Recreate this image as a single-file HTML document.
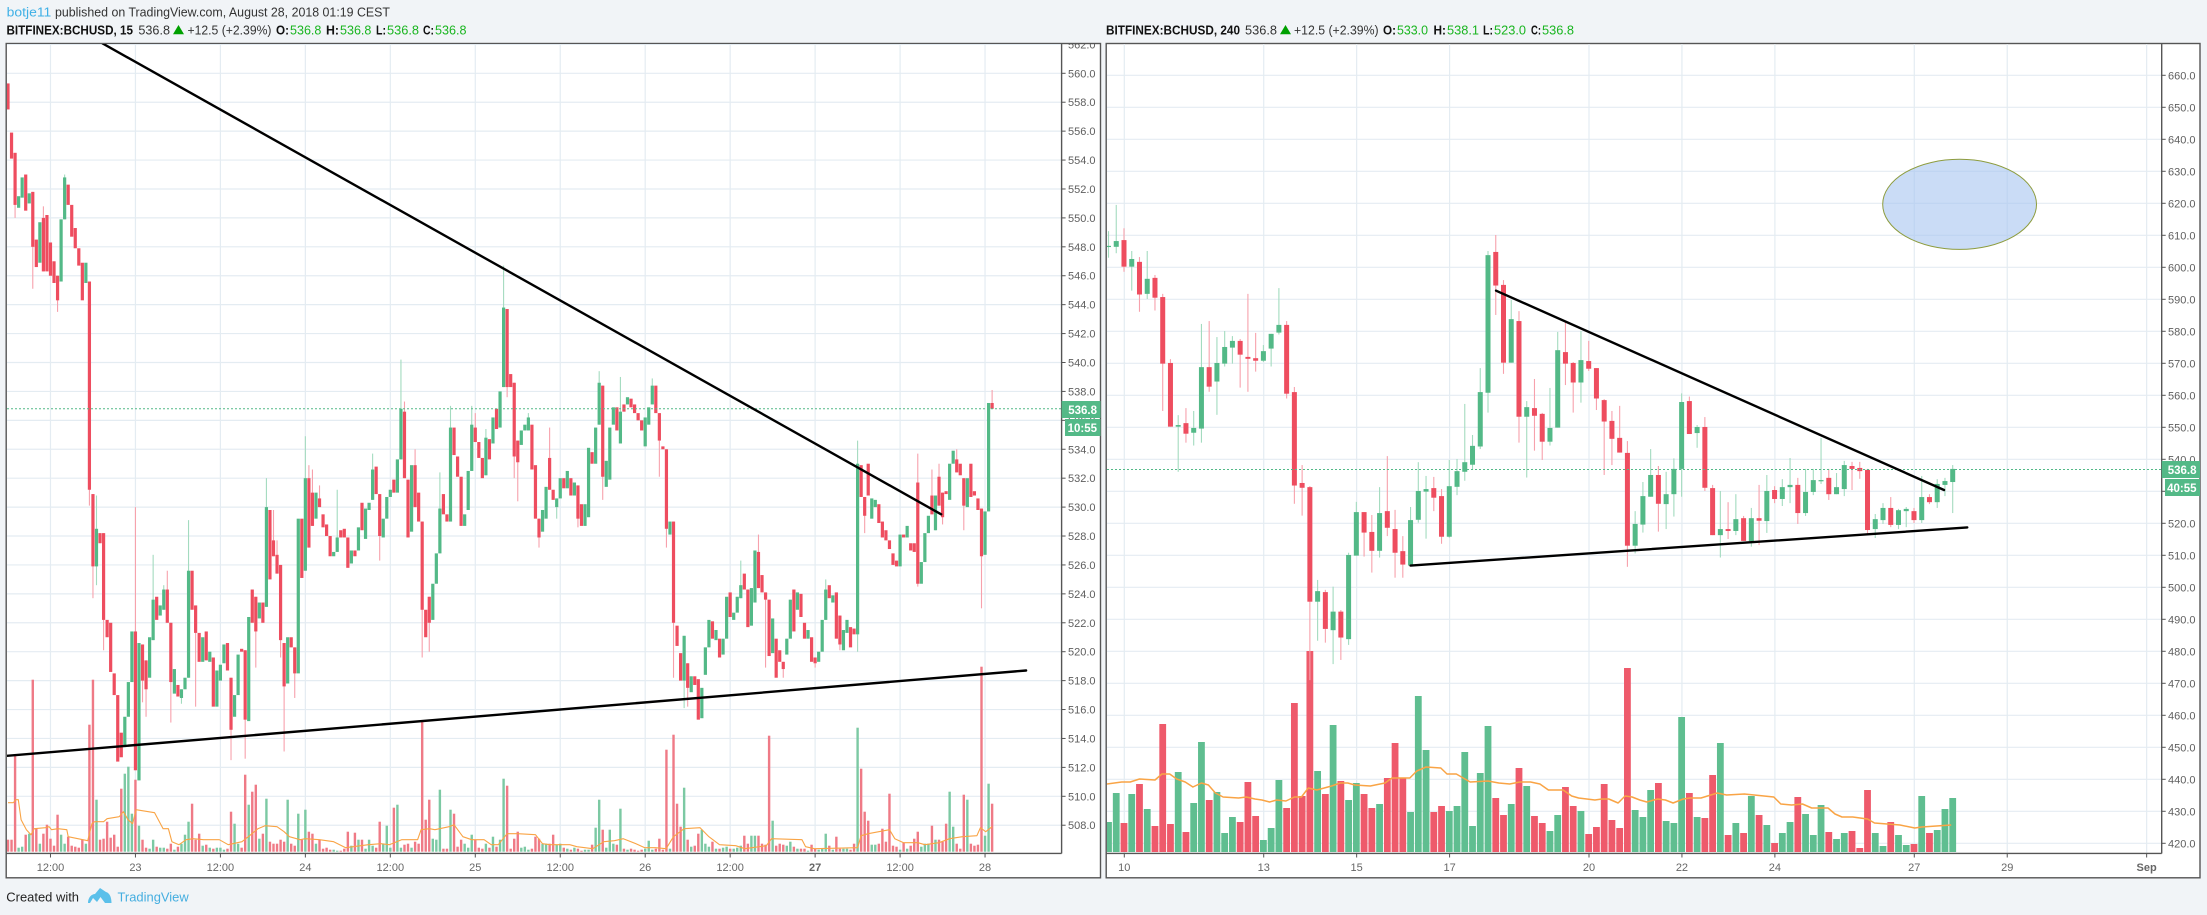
<!DOCTYPE html>
<html lang="en">
<head>
<meta charset="utf-8">
<title>BCHUSD charts</title>
<style>
html,body{margin:0;padding:0;background:#f1f4f7;}
svg{position:absolute;left:0;top:0;display:block;font-family:"Liberation Sans",sans-serif;}
</style>
</head>
<body>
<svg id="root" width="2207" height="915" viewBox="0 0 2207 915" xmlns="http://www.w3.org/2000/svg">
<defs>
<clipPath id="clipL"><rect x="7" y="44" width="1054.5" height="809"/></clipPath>
<clipPath id="clipR"><rect x="1107" y="44" width="1054.5" height="809"/></clipPath>
</defs>
<rect x="0" y="0" width="2207" height="915" fill="#f1f4f7"/>

<g font-size="13">
<text x="6.7" y="16.5" fill="#3fb0e6" textLength="44.6" lengthAdjust="spacingAndGlyphs">botje11</text>
<text x="55" y="16.5" fill="#333" textLength="335" lengthAdjust="spacingAndGlyphs">published on TradingView.com, August 28, 2018 01:19 CEST</text>
</g>

<g font-size="13">
<text x="6.5" y="34.5" font-weight="bold" fill="#111" textLength="126.5" lengthAdjust="spacingAndGlyphs">BITFINEX:BCHUSD, 15</text>
<text x="138.4" y="34.5" fill="#333" textLength="31.6" lengthAdjust="spacingAndGlyphs">536.8</text>
<polygon points="173,34.3 184,34.3 178.5,25" fill="#00a000"/>
<text x="187.5" y="34.5" fill="#333" textLength="84" lengthAdjust="spacingAndGlyphs">+12.5 (+2.39%)</text>
<text x="276" y="34.5" font-weight="bold" fill="#111" textLength="13" lengthAdjust="spacingAndGlyphs">O:</text>
<text x="290" y="34.5" fill="#19b51f" textLength="31.4" lengthAdjust="spacingAndGlyphs">536.8</text>
<text x="326" y="34.5" font-weight="bold" fill="#111" textLength="13" lengthAdjust="spacingAndGlyphs">H:</text>
<text x="340" y="34.5" fill="#19b51f" textLength="31.4" lengthAdjust="spacingAndGlyphs">536.8</text>
<text x="376" y="34.5" font-weight="bold" fill="#111" textLength="10" lengthAdjust="spacingAndGlyphs">L:</text>
<text x="387" y="34.5" fill="#19b51f" textLength="32" lengthAdjust="spacingAndGlyphs">536.8</text>
<text x="423" y="34.5" font-weight="bold" fill="#111" textLength="11" lengthAdjust="spacingAndGlyphs">C:</text>
<text x="435" y="34.5" fill="#19b51f" textLength="31.5" lengthAdjust="spacingAndGlyphs">536.8</text>
</g>

<g font-size="13">
<text x="1106" y="34.5" font-weight="bold" fill="#111" textLength="134" lengthAdjust="spacingAndGlyphs">BITFINEX:BCHUSD, 240</text>
<text x="1245" y="34.5" fill="#333" textLength="32" lengthAdjust="spacingAndGlyphs">536.8</text>
<polygon points="1280,34.3 1291,34.3 1285.5,25" fill="#00a000"/>
<text x="1294" y="34.5" fill="#333" textLength="84.6" lengthAdjust="spacingAndGlyphs">+12.5 (+2.39%)</text>
<text x="1383" y="34.5" font-weight="bold" fill="#111" textLength="13" lengthAdjust="spacingAndGlyphs">O:</text>
<text x="1397" y="34.5" fill="#19b51f" textLength="31" lengthAdjust="spacingAndGlyphs">533.0</text>
<text x="1433.5" y="34.5" font-weight="bold" fill="#111" textLength="12.5" lengthAdjust="spacingAndGlyphs">H:</text>
<text x="1447" y="34.5" fill="#19b51f" textLength="32" lengthAdjust="spacingAndGlyphs">538.1</text>
<text x="1483" y="34.5" font-weight="bold" fill="#111" textLength="10" lengthAdjust="spacingAndGlyphs">L:</text>
<text x="1494" y="34.5" fill="#19b51f" textLength="32" lengthAdjust="spacingAndGlyphs">523.0</text>
<text x="1531" y="34.5" font-weight="bold" fill="#111" textLength="10" lengthAdjust="spacingAndGlyphs">C:</text>
<text x="1542" y="34.5" fill="#19b51f" textLength="32" lengthAdjust="spacingAndGlyphs">536.8</text>
</g>

<rect x="6.2" y="43.5" width="1094.3" height="834.3" fill="#ffffff" stroke="#555" stroke-width="1.4"/>
<rect x="1106.2" y="43.5" width="1093.8" height="834.3" fill="#ffffff" stroke="#555" stroke-width="1.4"/>

<g id="leftChart"></g>
<g id="rightChart"></g>

<g>
<text x="6.3" y="901.5" font-size="13" fill="#222" textLength="72.7" lengthAdjust="spacingAndGlyphs">Created with</text>
<path d="M88 903 C88 897 92 894 95 894 L100 888 L106 892 C110 893 111.5 898 111.5 903 L105 903 L100.5 897 L97 902 L93 898 L90 903 Z" fill="#5bc0ea"/>
<text x="117.5" y="901.5" font-size="13" fill="#45aee0" textLength="71.2" lengthAdjust="spacingAndGlyphs">TradingView</text>
</g>
</svg>

<script>
// ---------- LEFT CHART DATA (BCHUSD, resampled 30-minute candles) ----------
const leftOpens = [559.3,555.9,554.5,550.7,551.4,553,551,551.8,548.5,546.9,
550,550.2,548.3,547,546,545.6,549.9,552.3,550.9,549.3,
547.9,546.9,545.5,545.6,530.9,525.9,528.2,528.2,522.2,522,
518.5,517,514.4,513.4,515.5,517.9,521.4,511.1,520.5,519.4,
518.2,520.8,523.8,522.5,522.9,524.3,522,517.1,517.7,516.8,
517.4,518.2,525.6,523.2,521.3,519.3,521.4,519.3,519.6,516.2,
518,519.2,520.6,518.2,515.5,517,520.2,520.1,515.2,524.3,
523.8,522.3,523.4,523.1,529.8,527.7,526.7,526,520.6,517.8,
521,520.3,518.5,529.2,525.6,532,531,529.2,530.6,529.5,
528.8,528,526.6,526.9,528.4,528.5,527.9,526.1,527,527,
530.3,527.8,529.8,530.5,532.8,530.9,527.9,529.2,530.7,531.9,
531,533.3,536.6,531.9,528.3,532.9,531,529,522.9,523.8,
522.2,524.7,526.8,530.9,529.5,529,535.5,533.5,532.1,528.7,
529.8,532.5,535.5,534.5,533.4,532.2,534.7,534.4,536.8,535.5,
538.3,543.7,539.2,538.6,534.6,534.3,535.3,535.3,535.7,532.9,
529.2,528.3,529.2,533.4,531.2,530,530.6,532,531.3,532,
530.8,531.5,530.2,528.7,529.3,533.8,533,535.7,538.4,531.4,
531.9,535.7,536.9,534.4,537.1,537.1,537.5,537.1,536.5,536,
534.2,535.7,537.1,538.4,536.5,534.2,534,528.1,529,521.8,
519.9,518,519.2,517.2,518.3,518.1,515.4,518.4,520.3,522.1,
520.8,520.9,519.8,520.9,524.1,522.2,522.7,523.7,525.4,524.3,
521.8,523.4,526.9,525.3,524.1,523.6,519.9,520.9,520.1,519.3,
519.8,520.9,524.3,522.9,524,522,520.9,521,519.6,519.3,
520,522.2,524.6,523.4,524.1,522.5,520.1,521.3,521.7,521.6,
521.2,532.9,530.7,533,529.2,530,530.2,529,528.4,527.7,
526.8,526.3,525.9,528.1,527.9,527.5,527.5,531.7,524.7,526.2,
528.2,530.8,528.4,532.1,531,531.1,530.5,533,533.3,533,
532,530,533,531.1,530.6,529.9,526.7,529.7,537.2];
const leftCloses = [557.5,554.1,550.9,551.5,552.8,550.5,551.7,548,546.6,549.7,
546.3,546.3,546,545.5,544.3,549.9,552.8,550.9,548.7,547.9,
546.7,544.3,546.9,531.2,525.9,528.5,527.5,522.2,521,518.6,
517,512.4,512.7,515.5,517.9,521.4,511.8,520.6,518,517.4,
521,523.6,522.2,523.2,524.3,522,517.9,518.8,516.9,517.4,
518.2,525.6,522.9,521.3,519.3,521,519.4,520,516.2,518.7,
519.1,520.5,518.7,514.6,517,519.8,520,515.3,522.4,522,
521.4,523.4,522,530,525,526.6,525.4,520.8,517.6,521,
520.3,518.5,529.2,525.1,532,527.2,528.7,531,530,528.6,
528,526.6,526.9,527.9,527.9,527.9,525.8,527,526.6,528.6,
528.4,529.9,530.3,532.6,530.9,528,529.2,530.7,531.2,531,
533.3,536.8,532,527.9,532.9,530,529,522.9,521,522,
524.7,526.8,529.9,529.5,529,535.5,533.6,532.1,528.7,529.5,
532.5,535.7,534.5,533.4,532,534.8,533.3,536.2,535.4,538,
543.8,538.3,538.3,533.5,533.1,535.3,535.7,536.2,532.6,529.2,
527.9,529.8,531.4,531.2,530.5,530.6,532,531.3,532.5,530.8,
531.7,529.2,528.7,530.2,534.1,533,535.5,538.6,532.1,533.2,
535.5,536.9,535.3,536.6,536.6,537.6,536.9,536.5,536,535.3,
536.2,536.9,538.4,536.5,534.6,534,528.5,529,522,520.4,
518,521.1,517.5,518.3,517.7,515.3,517.5,520.3,522.2,520.9,
521.5,519.6,520.9,523.8,522.4,522.7,523.8,524.6,524.3,521.7,
524.4,527,524.4,524.1,523.6,519.7,522.3,518.2,519.3,518.8,
520.9,523.6,521.4,524.1,522.4,520.9,521.5,519.3,519.2,520,
522.2,524.3,523.7,523.9,520.9,520.5,521.5,522.2,520.3,521.2,
533,530.7,529.4,530.8,530.6,530.5,528.9,527.9,527.7,527.1,
526,525.9,528.1,527.9,528.7,527,526.9,524.7,526.2,528.2,
529.4,529.5,530.8,530.1,529.3,530.9,533,533.9,532.4,532.2,
530.1,532,530.7,530.8,529.8,526.6,529.7,537.2,536.8];
const leftWickBars = [2,7,10,14,16,23,24,25,27,36,38,39,41,44,45,46,49,51,53,63,67,70,73,75,76,77,78,81,84,85,86,88,93,103,105,111,112,115,117,119,122,125,131,132,135,140,141,143,144,147,150,153,155,161,167,168,173,182,184,186,188,191,192,207,212,214,219,228,231,235,240,242,257,261,262,263,264,268,270,275,278];
const leftWickHighs = [null,null,550.8,null,553,null,null,530.8,null,530,null,null,526.7,524.6,525.6,null,null,529.1,null,null,null,null,532,529.8,527.7,null,null,null,534.9,532.9,532.6,531.5,531.2,533.7,null,540.2,537.3,534,null,null,532.4,537,537,536.5,535.4,546.7,540.7,null,null,536.5,null,535.5,null,null,539.4,null,539,538.9,null,null,null,null,null,526.3,528.1,null,null,null,525,null,534.6,null,533.7,532.6,null,533,null,534,null,null,538.1];
const leftWickLows = [550,545.1,null,543.5,null,530.1,523.7,524.6,520.1,null,516.5,515.5,null,null,null,515.1,516.4,null,516.2,512.5,512.6,518.9,null,null,null,519.6,513.1,516.8,null,null,null,null,null,null,526.3,null,null,null,519.6,520,null,null,null,null,null,null,537.6,532,530.4,null,527.2,null,529.2,528.6,null,530.5,null,null,532.1,527.2,518.2,516.1,516.2,null,null,518.9,518.2,518.9,null,520.1,520,528.2,524.5,null,528.4,null,528.8,null,528.4,523,null];
const leftVolumes = [12,12,96,4,5,17,18,172,23,8,18,27,13,6,37,17,8,15,6,5,4,12,8,127,172,52,12,13,30,14,17,5,63,78,85,38,72,26,12,4,3,12,5,4,4,3,8,2,5,8,17,30,48,12,18,6,7,4,3,4,4,2,3,40,28,8,4,77,47,60,67,13,18,53,10,8,8,12,10,52,8,6,38,12,42,20,18,8,12,3,4,2,2,1,1,3,20,6,19,12,12,3,12,6,4,30,8,26,4,44,47,4,7,8,4,10,8,130,32,52,13,12,62,3,3,42,38,5,12,8,4,17,12,4,3,8,4,15,5,12,73,66,3,13,20,4,5,2,3,15,13,8,8,8,17,7,8,4,3,2,4,3,1,2,2,7,24,52,22,4,22,8,7,43,3,2,3,2,1,2,3,11,2,3,13,2,102,3,117,48,25,64,12,5,6,18,22,8,5,10,3,3,4,5,3,3,4,6,16,8,16,16,16,8,7,116,31,6,8,7,6,10,5,3,3,3,1,7,3,2,3,18,6,2,15,3,3,3,2,8,124,83,40,31,7,7,8,23,10,58,6,5,2,9,3,6,13,20,5,8,8,26,12,12,10,28,60,25,8,3,57,52,8,6,7,185,16,68,48];
const leftMaBars = [0,1.5,2.2,2.9,3.7,5.2,6.5,7.4,10.6,11.6,12.3,14.1,16.6,17,22.5,23.7,24.5,27,28,31.4,32.6,33.9,35.2,36.2,37.9,41.4,43.8,45.3,46.3,48.3,50.3,52.3,55.2,59.7,62.2,66.1,68.6,70.6,72.6,76,78,79.5,82.5,84,88,92,95.4,101.8,105.3,107.7,111.2,115.7,116.7,119.1,120.6,124.6,126,128.5,131,134.5,136.5,138.5,141,144,149,151,153.1,158.7,160.7,165.2,168.3,171.3,173.8,177.4,179.9,182.9,185.9,188,191,195.5,198,201,205.6,208.1,214.2,215.7,224.3,225.3,227.8,240,241,243,249,250.5,253,257,259,263,266,269.6,273.7,274.7,276.2,278];
const leftMaValues = [49,49,52,52,32,22,17,23,24,25,22,23,22,15,11,28,30,30,33,35,40,32,28,42,41,39,23,23,10,7,12,13,12,12,7,10,17,23,26,25,20,15,12,13,12,10,4,7,8,7,12,12,22,23,22,25,27,15,12,12,7,7,18,18,17,8,7,7,5,3,10,11,13,8,4,4,3,15,23,24,15,7,6,3,6,13,12,5,3,4,16,18,22,13,9,9,7,9,13,15,16,24,20,25];
const leftPriceTicks = [562,560,558,556,554,552,550,548,546,544,542,540,538,536,534,532,530,528,526,524,522,520,518,516,514,512,510,508];
const leftTimeTickBars = [12,36,60,84,108,132,156,180,204,228,252,276];
const leftTimeTickLabels = ["12:00","23","12:00","24","12:00","25","12:00","26","12:00","27","12:00","28"];
const leftTrendBars = [[26.75,263.6],[-0.3,287.6]];
const leftTrendPrices = [[562.06,529.5],[512.8,518.7]];

// ---------- RIGHT CHART DATA (BCHUSD, 4-hour candles) ----------
const rightOpens = [606.4,606.4,608.5,600.2,601.7,591.7,596.7,590.7,570.1,550.2,551.3,548.3,549.6,568.8,564.3,569.9,574.9,577,572,571.6,570.8,574.6,579.6,582,561,532.6,531.3,495.5,498.5,486.6,492.4,483.8,509.9,523.5,517.3,511.4,523.8,518.2,511.3,506.8,521.1,529.9,531,528.5,515.8,531.4,536.1,538.3,544,560.8,604.8,594.5,570.2,583.2,553.3,556,554.2,545.5,549.9,573.5,570.1,564,570.7,568.5,558.5,552,546.7,542,513,519.6,528.3,535.1,526,529.1,537,558.2,548.2,550.1,531,516.3,518.2,517.6,521.6,514.4,521.6,520.7,530.4,527.6,531.3,532,523.2,529.8,533.2,534.2,529.1,530.7,537.9,537.3,536.7,518.2,521,524.8,519.5,523.8,523.8,521,528.2,526.6,532,532.9];
const rightCloses = [606.7,608.2,600.2,602.6,591.5,596.4,590.5,569.9,550.2,550.7,548,549.8,568.8,562.7,570.1,575.1,577,572.7,571.4,570.8,573.8,579.2,582,560.5,531.8,531.1,495.5,498.8,487,492.4,484.3,510.1,523.5,517.1,511.4,523.2,518.6,510.8,507.1,521,530.1,530.7,528,515.8,531.6,536.3,539.1,544.2,561,603.8,594.3,570.2,583.8,553.3,556.3,553.6,545.5,549.8,574.1,569.9,564,571,568.3,559,551.8,546.4,542.1,513,519.8,528.5,535.1,526.1,529.1,537,557.9,547.9,550.1,531.1,516.3,518.2,517.6,521.3,514.5,521.6,520.8,530.1,527.6,531.3,532,523.2,529.8,533.5,533.5,529.1,531.3,538.2,537,536.3,517.9,521.3,524.8,519.5,524.1,524.5,521,528.2,526.6,532.3,533.2,537];
const rightHighs = [611.3,619.5,612.2,605.1,603.2,605.1,597.6,591.7,571.3,553.8,556,555.1,582.3,583.2,578.2,580.1,578.5,577.6,591.7,579.5,575.7,579.2,593.5,583.2,562.6,538.2,531.6,502.3,499.2,500.2,492.9,510.8,526.7,523.5,522.6,531.3,541,524.2,516,525.1,539.1,534.8,534.5,530.7,539.8,540.1,557.3,547.6,568.5,605.1,610.1,596,589.8,586.3,558.2,565.1,554.5,562.3,579.8,583.2,570.4,580.1,577,568.5,558.8,555.1,556.7,545.7,523.8,532.9,543.2,537.9,536.1,540.3,560.6,559.6,550.7,553.2,532,530.1,526.6,529.1,522.3,524.8,532,535.1,531.6,533.8,540.4,534.2,537,537,546.7,537,535.7,539.5,539.2,539.2,537,522.9,526.3,528.2,524.5,525.1,524.8,534.8,529.1,533.8,534.2,538.2];
const rightLows = [603,604.4,598.6,592.7,586.1,590.1,586.5,555.1,550.2,536.1,545.2,544.3,545.2,561.1,553.9,569,569.9,562.4,561.1,567.4,570.4,569,579,559,526.1,522.4,471,483.3,482.7,476,477.3,482,509.9,509.6,504.6,509.3,516,503,503,506.8,520.2,515.2,523.8,513.6,515.5,528.8,533.3,536.7,543.2,554.6,585.1,566.7,570.2,545.2,534.3,542.7,539.8,544.3,549.9,563.2,554.6,557.7,567.6,555.4,535.1,538.2,542.1,506.4,510.6,517.1,528.3,517.4,518.2,522.1,528.3,547.9,543.6,530.1,516.3,509.3,515.1,516.3,514.5,512.7,513.2,517,526.3,525.4,526.3,519.8,522.3,528.8,532.3,527.3,529.1,528.5,530.4,533.9,516.3,515.4,519.8,518.8,518.2,518.8,520.1,520.1,526,524.8,528.5,523.2];
const rightVolumes = [30,59,29,58,68,43,26,128,28,80,20,49,110,52,60,19,35,30,70,36,12,24,72,44,149,56,201,81,58,127,71,52,69,58,44,48,74,109,74,40,156,102,40,46,41,46,100,26,79,126,54,37,48,84,66,36,29,21,37,65,46,41,18,25,68,32,24,184,42,35,62,69,31,29,135,59,35,34,77,109,17,29,19,56,37,27,9,19,30,55,38,17,47,20,13,19,21,4,62,19,6,30,17,7,8,56,19,22,43,54];
const rightMaBars = [-0.2,1.7,2.8,4,6,6.9,7.9,8.8,9.9,10.9,12,12.9,13.8,14.8,16.8,17.8,18.9,19.8,20.8,21.7,22.9,24,24.9,25.8,26.9,28.8,29.9,30.9,31.8,33.8,35.7,36.6,38.9,39.8,41,42.9,43.7,44.9,46.7,49,50.4,51.8,53.1,54.5,55.7,56.8,58.7,59.8,60.7,62.8,63.7,64.6,65.8,66.7,67.6,68.6,69.5,70.9,71.9,72.9,74.2,75.1,76.5,78.6,79.8,82.1,85.9,86.8,88.2,89.6,90.8,92.9,93.8,94.7,96.1,98,98.9,102.2,104.1,105,106.9,108.8];
const rightMaValues = [68,70,70,73,72,78,78,73,70,65,69,67,59,55,54,55,53,52,50,52,51,55,55,64,62,66,69,69,67,66,69,74,74,81,85,84,78,78,70,71,69,68,70,70,68,62,62,56,54,52,53,53,49,56,55,52,50,53,52,49,53,54,54,59,57,58,55,48,47,48,44,44,38,35,35,33,29,27,24,25,26,27];
const rightPriceTicks = [660,650,640,630,620,610,600,590,580,570,560,550,540,530,520,510,500,490,480,470,460,450,440,430,420];
const rightTimeTickDays = [10,13,15,17,20,22,24,27,29,32];
const rightTimeTickLabels = ["10","13","15","17","20","22","24","27","29","Sep"];
const rightTrendDays = [[18,27.64],[16.16,28.14]];
const rightTrendPrices = [[592.7,530.4],[506.8,518.7]];
const rightEllipseDays = [26.32,29.63];
const rightEllipsePrices = [633.75,605.6];
const lastPrice = 536.8;

// ---------- AXES ----------
const xLeft = bar => 8 + bar * 3.54;
const yLeft = price => 73.3 + (560 - price) * 14.46;
const volLeft = v => 851.7 - v;
const xRightDay = day => 1124.3 + (day - 10) * 46.47;
const xRight = i => xRightDay(9.66 + i / 6);
const yRight = price => 75.3 + (660 - price) * 3.2;
const volRight = v => 852 - v;

const NS = 'http://www.w3.org/2000/svg';
const UP = '#53b987', DOWN = '#ee4d5f', UPW = '#a3dbbf', DOWNW = '#f7a1ac';
function make(tag, parent) {
  const el = document.createElementNS(NS, tag);
  parent.appendChild(el);
  return el;
}
function makeLine(parent, name, x1, y1, x2, y2, stroke, width) {
  const el = make('line', parent);
  
  
  el.setAttribute('x1', x1); el.setAttribute('y1', y1);
  el.setAttribute('x2', x2); el.setAttribute('y2', y2);
  el.setAttribute('stroke', stroke); el.setAttribute('stroke-width', width);
  return el;
}
function makeRect(parent, name, x, y, w, h, fill) {
  const el = make('rect', parent);
  
  
  el.setAttribute('x', x); el.setAttribute('y', y);
  el.setAttribute('width', w); el.setAttribute('height', h);
  el.setAttribute('fill', fill);
  return el;
}
function makeText(parent, name, x, y, str, size, fill, anchor, weight) {
  const el = make('text', parent);
  
  
  el.setAttribute('x', x); el.setAttribute('y', y);
  el.setAttribute('font-size', size); el.setAttribute('fill', fill);
  el.setAttribute('text-anchor', anchor || 'start');
  if (weight) el.setAttribute('font-weight', weight);
  el.textContent = str;
  return el;
}
function makeGroup(parent, name, clip) {
  const g = make('g', parent);
  
  
  if (clip) g.setAttribute('clip-path', 'url(#' + clip + ')');
  return g;
}
function makePolyline(parent, name, pts, stroke, width) {
  const el = make('polyline', parent);
  
  
  el.setAttribute('points', pts.join(' '));
  el.setAttribute('fill', 'none');
  el.setAttribute('stroke', stroke);
  el.setAttribute('stroke-width', width);
  el.setAttribute('stroke-linejoin', 'round');
  return el;
}
const GRID = '#e4ecf2', AXIS = '#555', LABEL = '#666';

function drawChart(cfg) {
  const root = document.getElementById(cfg.rootId);
  const plot = makeGroup(root, cfg.prefix + '-plot-area', cfg.clip);
  const grid = makeGroup(plot, cfg.prefix + '-grid');
  cfg.priceTicks.forEach(p => {
    makeLine(grid, cfg.prefix + '-grid-h', cfg.left, cfg.y(p), cfg.right, cfg.y(p), GRID, 1.2);
  });
  cfg.timeTicks.forEach(t => {
    makeLine(grid, cfg.prefix + '-grid-v', cfg.tx(t), 44, cfg.tx(t), 853, GRID, 1.2);
  });
  if (cfg.ellipse) cfg.ellipse(plot);

  const vols = makeGroup(plot, cfg.prefix + '-volume-bars');
  cfg.volumes.forEach((v, i) => {
    const up = cfg.closes[i] >= cfg.opens[i];
    const cx = cfg.x(i);
    makeRect(vols, cfg.prefix + '-volume-bar', cx - cfg.volWidth / 2, cfg.vol(v), cfg.volWidth, cfg.vol(0) - cfg.vol(v), up ? cfg.volUp : cfg.volDown);
  });
  makePolyline(plot, cfg.prefix + '-volume-ma', cfg.maBars.map((b, i) => cfg.x(b).toFixed(1) + ',' + cfg.vol(cfg.maValues[i]).toFixed(1)), '#f9a445', cfg.maWidth);

  const wicks = makeGroup(plot, cfg.prefix + '-wicks');
  cfg.wicks(wicks);
  const bodies = makeGroup(plot, cfg.prefix + '-candles');
  cfg.opens.forEach((o, i) => {
    const c = cfg.closes[i];
    const top = Math.max(o, c), bot = Math.min(o, c);
    const h = Math.max(cfg.y(bot) - cfg.y(top), 1.2);
    makeRect(bodies, cfg.prefix + '-candle', cfg.x(i) - cfg.barWidth / 2, cfg.y(top), cfg.barWidth, h, c >= o ? UP : DOWN);
  });

  const last = makeLine(plot, cfg.prefix + '-last-price-line', cfg.left, cfg.y(lastPrice), cfg.right, cfg.y(lastPrice), '#53b987', 1);
  last.setAttribute('stroke-dasharray', '2 2');

  cfg.trendX.forEach((xs, n) => {
    const tl = makeLine(plot, cfg.prefix + '-trendline-' + (n + 1), cfg.tlx(xs[0]), cfg.y(cfg.trendY[n][0]), cfg.tlx(xs[1]), cfg.y(cfg.trendY[n][1]), '#000', 2.4);
    
    tl.setAttribute('stroke-linecap', 'round');
  });

  const axes = makeGroup(root, cfg.prefix + '-axes');
  makeLine(axes, cfg.prefix + '-price-axis-line', cfg.axisX, 43.5, cfg.axisX, 853.5, AXIS, 1.4);
  makeLine(axes, cfg.prefix + '-time-axis-line', cfg.frameL, 853.4, cfg.axisX, 853.4, AXIS, 1.4);
  cfg.priceTicks.forEach(p => {
    const y = cfg.y(p);
    if (y > 46) makeLine(axes, cfg.prefix + '-price-tick', cfg.axisX, y, cfg.axisX + 4, y, AXIS, 1);
    const t = makeText(axes, cfg.prefix + '-price-label', cfg.labelX, y + 4, p.toFixed(1), 11, '#5e5e5e');
    if (y < 46) t.setAttribute('clip-path', 'url(#clipTop)');
  });
  cfg.timeTicks.forEach((t, i) => {
    const x = cfg.tx(t);
    makeLine(axes, cfg.prefix + '-time-tick', x, 853.4, x, 857.5, AXIS, 1);
    const lab = cfg.timeLabels[i];
    makeText(axes, cfg.prefix + '-time-label', x, 871, lab, 11, LABEL, 'middle', (lab === '27' && cfg.prefix === 'left') || lab === 'Sep' ? 'bold' : null);
  });

  makeRect(axes, cfg.prefix + '-last-price-tag', cfg.axisX, cfg.tagY, cfg.frameR - cfg.axisX, 17, '#53b987');
  makeText(axes, cfg.prefix + '-last-price-tag-text', cfg.frameR - 3.5, cfg.tagY + 12.8, lastPrice.toFixed(1), 11.5, '#fff', 'end', 'bold');
  makeRect(axes, cfg.prefix + '-countdown-tag', cfg.cdX, cfg.tagY + 18, cfg.frameR - cfg.cdX, 17, '#53b987');
  makeText(axes, cfg.prefix + '-countdown-text', cfg.frameR - 3.5, cfg.tagY + 30.8, cfg.countdown, 11.5, '#fff', 'end', 'bold');
}

// top-edge clip for the half hidden 562.0 label
(function () {
  const defs = document.querySelector('#root defs');
  const cp = make('clipPath', defs);
  cp.setAttribute('id', 'clipTop');
  const r = make('rect', cp);
  r.setAttribute('x', 1000); r.setAttribute('y', 44); r.setAttribute('width', 110); r.setAttribute('height', 20);
})();

drawChart({
  rootId: 'leftChart', prefix: 'left', clip: 'clipL', left: 7, right: 1061.5, frameL: 6.2, frameR: 1100.5, axisX: 1061.6, labelX: 1068,
  x: xLeft, y: yLeft, vol: volLeft, tx: xLeft, tlx: xLeft,
  opens: leftOpens, closes: leftCloses, volumes: leftVolumes, maBars: leftMaBars, maValues: leftMaValues,
  priceTicks: leftPriceTicks, timeTicks: leftTimeTickBars, timeLabels: leftTimeTickLabels,
  trendX: leftTrendBars, trendY: leftTrendPrices,
  barWidth: 3.2, volWidth: 2.4, maWidth: 1.1, volUp: '#7cc9a3', volDown: '#ef7a86',
  tagY: 401, cdX: 1065, countdown: '10:55',
  wicks: function (g) {
    leftWickBars.forEach((b, n) => {
      const o = leftOpens[b], c = leftCloses[b], up = c >= o;
      const hi = leftWickHighs[n] === null ? Math.max(o, c) : leftWickHighs[n];
      const lo = leftWickLows[n] === null ? Math.min(o, c) : leftWickLows[n];
      makeLine(g, 'left-wick', xLeft(b), yLeft(hi), xLeft(b), yLeft(lo), up ? UPW : DOWNW, 1.1);
    });
  }
});

drawChart({
  rootId: 'rightChart', prefix: 'right', clip: 'clipR', left: 1107, right: 2161.5, frameL: 1106.2, frameR: 2200, axisX: 2161.7, labelX: 2168,
  x: xRight, y: yRight, vol: volRight, tx: xRightDay, tlx: xRightDay,
  opens: rightOpens, closes: rightCloses, volumes: rightVolumes, maBars: rightMaBars, maValues: rightMaValues,
  priceTicks: rightPriceTicks, timeTicks: rightTimeTickDays, timeLabels: rightTimeTickLabels,
  trendX: rightTrendDays, trendY: rightTrendPrices,
  barWidth: 5, volWidth: 6.8, maWidth: 1.5, volUp: '#5fbe90', volDown: '#ee5a6b',
  tagY: 461, cdX: 2165, countdown: '40:55',
  ellipse: function (g) {
    const el = make('ellipse', g);
    
    
    const x0 = xRightDay(rightEllipseDays[0]), x1 = xRightDay(rightEllipseDays[1]);
    const y0 = yRight(rightEllipsePrices[0]), y1 = yRight(rightEllipsePrices[1]);
    el.setAttribute('cx', (x0 + x1) / 2); el.setAttribute('cy', (y0 + y1) / 2);
    el.setAttribute('rx', (x1 - x0) / 2); el.setAttribute('ry', (y1 - y0) / 2);
    el.setAttribute('fill', '#a6c5f0'); el.setAttribute('fill-opacity', '0.6');
    el.setAttribute('stroke', '#8d9c3e'); el.setAttribute('stroke-width', '1');
  },
  wicks: function (g) {
    rightHighs.forEach((hi, i) => {
      const up = rightCloses[i] >= rightOpens[i];
      makeLine(g, 'right-wick', xRight(i), yRight(hi), xRight(i), yRight(rightLows[i]), up ? UPW : DOWNW, 1.1);
    });
  }
});
</script>
</body>
</html>
